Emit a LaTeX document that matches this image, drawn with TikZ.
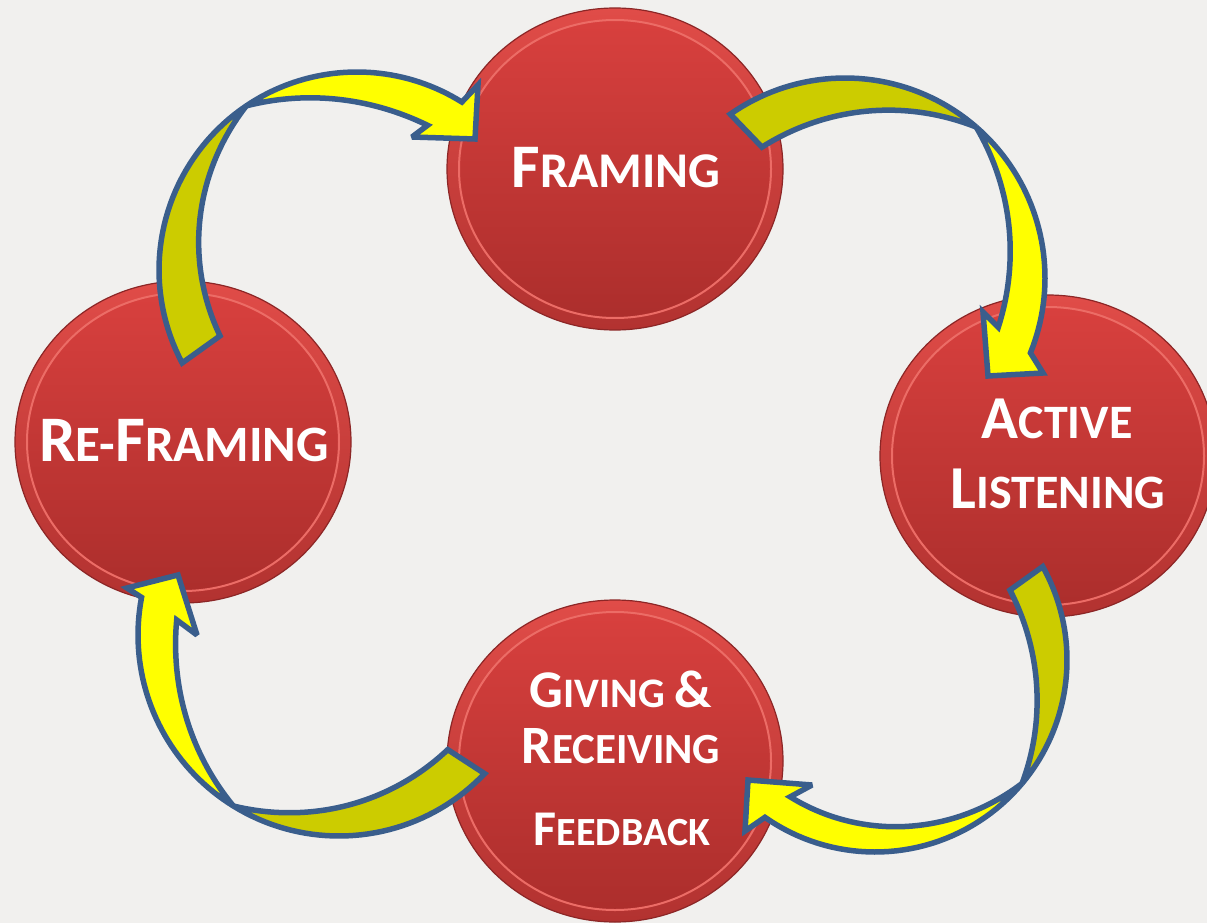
\documentclass[tikz,border=0pt]{standalone}
\usepackage{fontspec}
\setmainfont{Carlito}
\usetikzlibrary{shapes.geometric}
\definecolor{bg}{RGB}{241,240,238}
\definecolor{rimtop}{RGB}{224,76,72}
\definecolor{rimbot}{RGB}{178,50,48}
\definecolor{facetop}{RGB}{216,64,62}
\definecolor{facebot}{RGB}{172,46,44}
\definecolor{edge}{RGB}{140,38,38}
\definecolor{hilite}{RGB}{236,108,102}
\definecolor{arrowline}{RGB}{58,94,140}
\definecolor{yel}{RGB}{255,255,0}
\definecolor{olv}{RGB}{204,204,0}
\newcommand{\myfs}[1]{\fontsize{#1}{#1}\selectfont}
% twisted curved arrow: parameters set with \def before use
% \aCX,\aCY centre; \aR radius; \aTo,\aTi tail angles (outer, inner); \aX crossing angle;
% \aHo,\aHi head-base angles (outer, inner); \aWT,\aWH widths; #1 = head polygon
\newcommand{\ribbon}[1]{%
 \path[backface]
  plot[domain=0:1, samples=40, variable=\s]
   ({\aCX + \aR*cos(\aTo + \s*(\aX-\aTo))}, {\aCY + \aR*sin(\aTo + \s*(\aX-\aTo))})
  -- plot[domain=0:1, samples=40, variable=\s]
   ({\aCX + (\aR - \aWT*\s*(2-\s))*cos(\aX - \s*(\aX-\aTi))},
    {\aCY + (\aR - \aWT*\s*(2-\s))*sin(\aX - \s*(\aX-\aTi))})
  -- cycle;
 \path[frontface]
  plot[domain=0:1, samples=40, variable=\s]
   ({\aCX + \aR*cos(\aX + \s*(\aHo-\aX))}, {\aCY + \aR*sin(\aX + \s*(\aHo-\aX))})
  -- #1
  -- plot[domain=0:1, samples=40, variable=\s]
   ({\aCX + (\aR - \aWH*(1-\s)*(1+\s))*cos(\aHi - \s*(\aHi-\aX))},
    {\aCY + (\aR - \aWH*(1-\s)*(1+\s))*sin(\aHi - \s*(\aHi-\aX))})
  -- cycle;}
\begin{document}
\begin{tikzpicture}[x=1pt,y=-1pt,
 disc/.style={ellipse, inner sep=0pt, minimum width=336pt, minimum height=322pt,
   top color=rimtop, bottom color=rimbot, draw=edge, line width=1.2pt},
 face/.style={ellipse, inner sep=0pt, minimum width=312pt, minimum height=298pt,
   top color=facetop, bottom color=facebot, draw=hilite, line width=2pt},
 backface/.style={fill=olv, draw=arrowline, line width=5.5pt, line join=miter, miter limit=3},
 frontface/.style={fill=yel, draw=arrowline, line width=5.5pt, line join=miter, miter limit=3},
 lbl/.style={anchor=base, text=white, font=\bfseries, inner sep=0pt}
]
\useasboundingbox (0,0) rectangle (1207,923);
\fill[bg] (0,0) rectangle (1207,923);

% discs
\node[disc] (framing) at (615,169) {};
\node[face] (framingface) at (framing.center) {};
\node[disc] (active) at (1048,456) {};
\node[face] (activeface) at (active.center) {};
\node[disc] (giving) at (615,761) {};
\node[face] (givingface) at (giving.center) {};
\node[disc] (reframing) at (183,442) {};
\node[face] (reframingface) at (reframing.center) {};

% arrow: Re-Framing -> Framing
\def\aCX{357}\def\aCY{270}\def\aR{198}
\def\aTo{152}\def\aTi{154.3}\def\aX{236}\def\aHo{302}\def\aHi{296}
\def\aWT{46}\def\aWH{37}
\ribbon{(478,85) -- (475,139) -- (412,137)}

% arrow: Framing -> Active Listening
\def\aCX{845}\def\aCY{278}\def\aR{200}
\def\aTo{235}\def\aTi{237.6}\def\aX{311}\def\aHo{382}\def\aHi{377.8}
\def\aWT{45}\def\aWH{39}
\ribbon{(1043,373) -- (988,376) -- (983,312)}

% arrow: Active Listening -> Giving & Receiving Feedback
\def\aCX{875}\def\aCY{660}\def\aR{192}
\def\aTo{330.9}\def\aTi{332.6}\def\aX{400}\def\aHo{485}\def\aHi{481.8}
\def\aWT{40}\def\aWH{31}
\ribbon{(745,831) -- (748,780) -- (812,785)}

% arrow: Giving & Receiving Feedback -> Re-Framing
\def\aCX{339}\def\aCY{635}\def\aR{201}
\def\aTo{43.6}\def\aTi{46.5}\def\aX{121.7}\def\aHo{190.8}\def\aHi{185.3}
\def\aWT{43}\def\aWH{38}
\ribbon{(127,588) -- (178,575) -- (197,635)}

% labels
\node[lbl] (tframing) at (616,187) {\myfs{62}F\myfs{50}RAMING};
\node[lbl] (treframing) at (184,461) {\myfs{65}R\myfs{51}E-\myfs{65}F\myfs{51}RAMING};
\node[lbl] (tactive) at (1057,438) {\myfs{61}A\myfs{48}CTIVE};
\node[lbl] (tlistening) at (1058,508) {\myfs{61}L\myfs{48}ISTENING};
\node[lbl] (tgiving) at (621,707) {\myfs{53}G\myfs{42}IVING \myfs{53}\&};
\node[lbl] (treceiving) at (621,763) {\myfs{54}R\myfs{43}ECEIVING};
\node[lbl] (tfeedback) at (622,845) {\myfs{50}F\myfs{40}EEDBACK};
\end{tikzpicture}
\end{document}
